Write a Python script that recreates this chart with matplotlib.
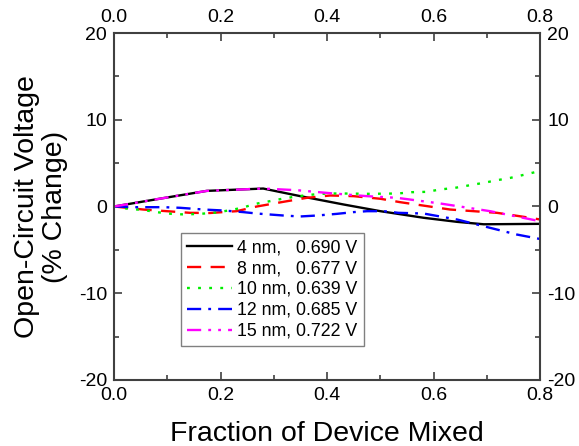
import matplotlib
matplotlib.use("Agg")
import matplotlib.pyplot as plt
from matplotlib.ticker import MultipleLocator

plt.rcParams["font.family"] = ["Liberation Sans", "DejaVu Sans"]
plt.rcParams["axes.unicode_minus"] = False

# data (fraction mixed, % change of Voc)
x_4nm = [0.0, 0.086, 0.174, 0.28, 0.349, 0.431, 0.5, 0.581, 0.644, 0.694, 0.8]
y_4nm = [0.0, 0.9, 1.8, 2.07, 1.2, 0.23, -0.54, -1.3, -1.77, -2.05, -2.0]

x_8nm = [0.0, 0.055, 0.099, 0.143, 0.18, 0.23, 0.268, 0.318, 0.362, 0.406, 0.45,
         0.5, 0.537, 0.631, 0.719, 0.769, 0.8]
y_8nm = [0.0, -0.35, -0.54, -0.73, -0.75, -0.54, 0.0, 0.54, 1.0, 1.27, 1.19,
         0.89, 0.5, -0.35, -0.73, -1.19, -1.5]

x_10nm = [0.0, 0.027, 0.055, 0.08, 0.108, 0.133, 0.16, 0.187, 0.215, 0.24, 0.266,
          0.293, 0.318, 0.346, 0.374, 0.4, 0.428, 0.48, 0.533, 0.559, 0.587,
          0.612, 0.64, 0.665, 0.694, 0.719, 0.744, 0.772, 0.8]
y_10nm = [0.0, -0.27, -0.4, -0.65, -0.85, -0.92, -0.85, -0.73, -0.46, -0.15, 0.31,
          0.62, 0.92, 1.19, 1.38, 1.5, 1.5, 1.46, 1.5, 1.65, 1.69,
          1.96, 2.15, 2.42, 2.73, 3.03, 3.3, 3.69, 4.1]

x_12nm = [0.0, 0.043, 0.093, 0.124, 0.168, 0.205, 0.243, 0.268, 0.318, 0.349,
          0.381, 0.418, 0.449, 0.475, 0.506, 0.534, 0.581, 0.644, 0.706, 0.756, 0.8]
y_12nm = [0.0, -0.08, -0.08, -0.15, -0.35, -0.46, -0.65, -0.81, -1.04, -1.15,
          -1.04, -0.85, -0.65, -0.54, -0.54, -0.73, -0.81, -1.5, -2.46, -3.23, -3.75]

x_15nm = [0.0, 0.086, 0.174, 0.28, 0.343, 0.412, 0.475, 0.531, 0.612, 0.706, 0.8]
y_15nm = [0.0, 0.9, 1.8, 2.07, 1.88, 1.5, 1.19, 1.0, 0.35, -0.54, -1.7]

labels = ["4 nm,   0.690 V", "8 nm,   0.677 V", "10 nm, 0.639 V",
          "12 nm, 0.685 V", "15 nm, 0.722 V"]

FRAME = "#404040"

fig = plt.figure(figsize=(5.79, 4.46), dpi=100)
ax = fig.add_axes([0.197, 0.148, 0.736, 0.778])

lw = 1.7
ax.plot(x_4nm, y_4nm, color="black", lw=lw, label=labels[0])
ax.plot(x_8nm, y_8nm, color="#ff0000", lw=lw, dashes=(6, 4), label=labels[1])
ax.plot(x_10nm, y_10nm, color="#00ee00", lw=lw, dashes=(1.2, 3.5), label=labels[2])
ax.plot(x_12nm, y_12nm, color="#0000ff", lw=lw, dashes=(6, 3, 1.2, 3), label=labels[3])
ax.plot(x_15nm, y_15nm, color="#ff00ff", lw=lw, dashes=(6, 3, 1.2, 3, 1.2, 3), label=labels[4])

ax.set_xlim(0, 0.8)
ax.set_ylim(-20, 20)
ax.xaxis.set_major_locator(MultipleLocator(0.2))
ax.xaxis.set_minor_locator(MultipleLocator(0.1))
ax.yaxis.set_major_locator(MultipleLocator(10))
ax.yaxis.set_minor_locator(MultipleLocator(5))
ax.xaxis.set_major_formatter(plt.FormatStrFormatter("%.1f"))

ax.tick_params(which="both", direction="in", top=True, right=True,
               labeltop=True, labelright=True, colors=FRAME, labelcolor="black",
               width=1.2, labelsize=14)
ax.tick_params(which="major", length=6, pad=5)
ax.tick_params(which="minor", length=3.5)

for s in ax.spines.values():
    s.set_color(FRAME)
    s.set_linewidth(1.5)

ax.set_xlabel("Fraction of Device Mixed", fontsize=20.5, labelpad=12)
ax.set_ylabel("Open-Circuit Voltage\n(% Change)", fontsize=20.5, labelpad=8,
              linespacing=1.1)

leg = ax.legend(loc="lower left", bbox_to_anchor=(0.157, 0.098), borderaxespad=0,
                fontsize=12.8, handlelength=2.5, handletextpad=0.3,
                labelspacing=0.22, borderpad=0.35, fancybox=False, framealpha=1)
leg.get_frame().set_edgecolor("#808080")
leg.get_frame().set_linewidth(1.0)

fig.savefig("out.png", dpi=100)
plt.close(fig)
